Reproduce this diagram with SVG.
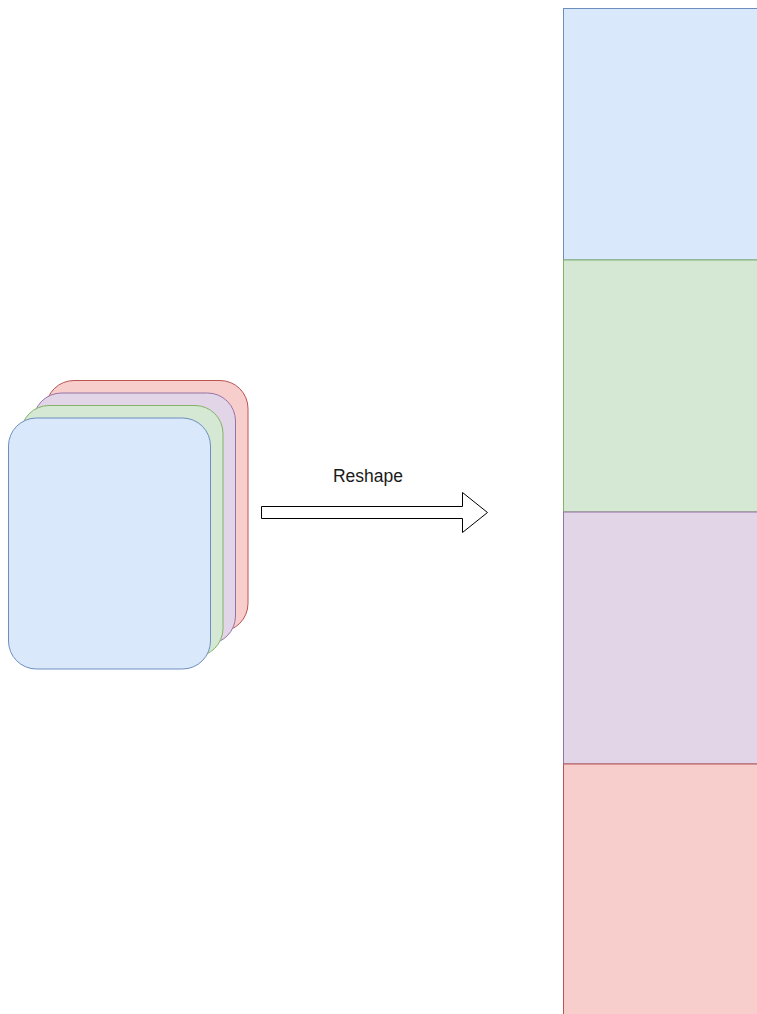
<svg xmlns="http://www.w3.org/2000/svg" width="757" height="1014" viewBox="0 0 757 1014">
  <style>
    .blue { fill: #dae8fc; stroke: #6c8ebf; }
    .green { fill: #d5e8d4; stroke: #82b366; }
    .purple { fill: #e1d5e7; stroke: #9673a6; }
    .red { fill: #f8cecc; stroke: #b85450; }
    .label { font-family: "Liberation Sans", Arial, sans-serif; font-size: 17.5px; fill: #1a1a1a; }
  </style>
  <rect width="757" height="1014" fill="#ffffff"/>

  <!-- stacked feature maps, back to front -->
  <g id="map-red"><rect class="red" x="46" y="380.5" width="202" height="251" rx="28" ry="28"/></g>
  <g id="map-purple"><rect class="purple" x="33.5" y="393" width="202" height="251" rx="28" ry="28"/></g>
  <g id="map-green"><rect class="green" x="21" y="405.5" width="202" height="251" rx="28" ry="28"/></g>
  <g id="map-blue"><rect class="blue" x="8.5" y="418" width="202" height="251" rx="28" ry="28"/></g>

  <!-- reshape arrow -->
  <g id="connectors">
    <path d="M261.5,506.5 L462.5,506.5 L462.5,492.5 L487.5,512.5 L462.5,532.5 L462.5,518.5 L261.5,518.5 Z" fill="#ffffff" stroke="#000000" stroke-width="1"/>
  </g>
  <g id="label-reshape"><text class="label" x="368" y="482" text-anchor="middle">Reshape</text></g>

  <!-- flattened column -->
  <g id="seg-blue"><rect class="blue" x="563.5" y="8.5" width="260" height="251.5"/></g>
  <g id="seg-green"><rect class="green" x="563.5" y="260" width="260" height="252"/></g>
  <g id="seg-purple"><rect class="purple" x="563.5" y="512" width="260" height="252"/></g>
  <g id="seg-red"><rect class="red" x="563.5" y="764" width="260" height="260"/></g>
</svg>
